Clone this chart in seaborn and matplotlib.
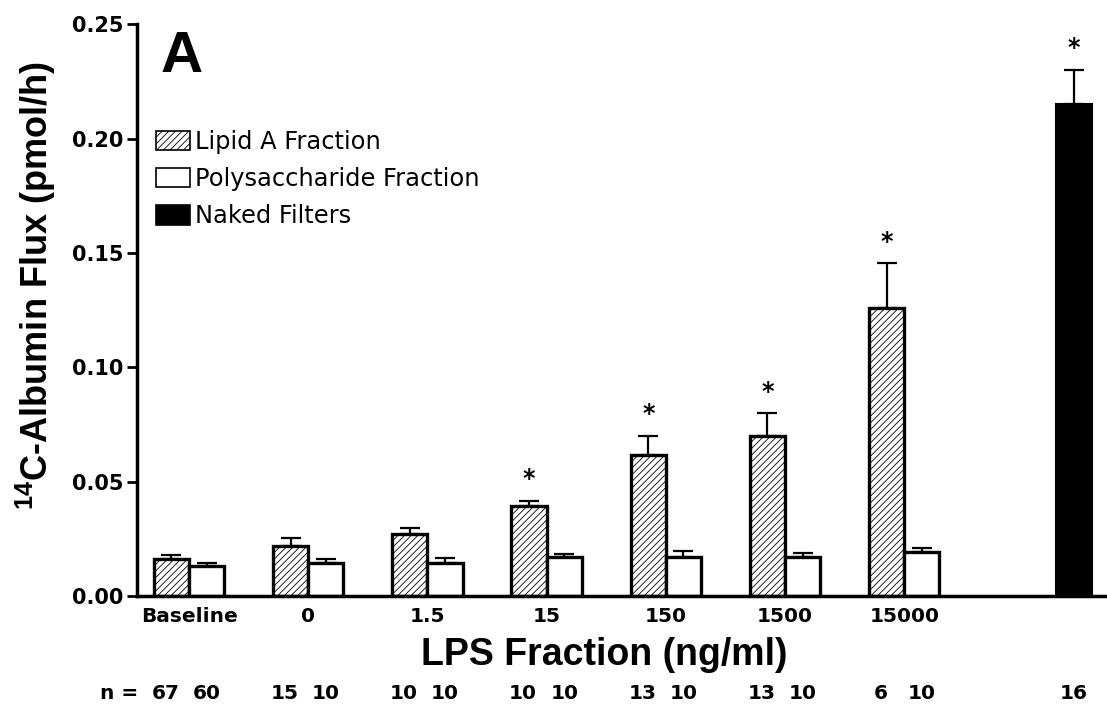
import numpy as np
import pandas as pd
import matplotlib
matplotlib.use("Agg")
import matplotlib.pyplot as plt
import seaborn as sns
from matplotlib.patches import Patch

# ---- data ----
groups = ["Baseline", "0", "1.5", "15", "150", "1500", "15000"]
lipid_mean = [0.0162, 0.0218, 0.0271, 0.0393, 0.0616, 0.0699, 0.1258]
lipid_sem = [0.0017, 0.0035, 0.0026, 0.0022, 0.0083, 0.0100, 0.0196]
poly_mean = [0.0131, 0.0144, 0.0144, 0.0170, 0.0170, 0.0170, 0.0192]
poly_sem = [0.0013, 0.0018, 0.0022, 0.0013, 0.0027, 0.0018, 0.0018]
naked_mean = [0.2153]
naked_sem = [0.0147]
lipid_n = [67, 15, 10, 10, 13, 13, 6]
poly_n = [60, 10, 10, 10, 10, 10, 10]
naked_n = [16]
lipid_sig = [False, False, False, True, True, True, True]
naked_sig = [True]

sns.set_theme(style="ticks")
plt.rcParams["font.family"] = ["DejaVu Sans"]
plt.rcParams["mathtext.fontset"] = "custom"
plt.rcParams["mathtext.rm"] = "Liberation Sans"
plt.rcParams["mathtext.bf"] = "Liberation Sans:bold"
plt.rcParams["hatch.linewidth"] = 0.6
plt.rcParams["hatch.color"] = "#666666"
for k in ["text.color", "axes.labelcolor", "xtick.color", "ytick.color",
          "axes.edgecolor"]:
    plt.rcParams[k] = "black"

fig = plt.figure(figsize=(11.07, 7.13), dpi=100)
ax = fig.add_axes([0.1238, 0.164, 0.874, 0.802])

bw = 0.295
gpos = np.arange(len(groups))
naked_pos = 7.425
lp = gpos - bw / 2
pp = gpos + bw / 2

df_l = pd.DataFrame({"x": lp, "y": lipid_mean})
df_p = pd.DataFrame({"x": pp, "y": poly_mean})
df_n = pd.DataFrame({"x": [naked_pos], "y": naked_mean})

n0 = len(ax.patches)
sns.barplot(data=df_l, x="x", y="y", native_scale=True, width=bw, color="white",
            edgecolor="black", linewidth=2.4, errorbar=None, ax=ax, saturation=1)
for p in ax.patches[n0:]:
    p.set_hatch("/////")
    p.set_facecolor("white")
sns.barplot(data=df_p, x="x", y="y", native_scale=True, width=bw, color="white",
            edgecolor="black", linewidth=2.4, errorbar=None, ax=ax, saturation=1)
sns.barplot(data=df_n, x="x", y="y", native_scale=True, width=0.3, color="black",
            edgecolor="black", linewidth=1.5, errorbar=None, ax=ax, saturation=1)

# upper-only error bars
for xs, ms, es in [(lp, lipid_mean, lipid_sem), (pp, poly_mean, poly_sem),
                   ([naked_pos], naked_mean, naked_sem)]:
    ax.errorbar(xs, ms, yerr=[np.zeros(len(es)), es], fmt="none", ecolor="black",
                elinewidth=1.6, capsize=7, capthick=1.6, zorder=1)

# significance stars
for xs, ms, es, ss in [(lp, lipid_mean, lipid_sem, lipid_sig),
                       ([naked_pos], naked_mean, naked_sem, naked_sig)]:
    for x, m, e, s in zip(xs, ms, es, ss):
        if s:
            ax.annotate("*", (x, m + e), xytext=(0, 7), textcoords="offset points",
                        ha="center", va="bottom", fontsize=17, fontweight="bold")

ax.set_xlim(-0.436, 7.68)
ax.set_ylim(0, 0.25)
ax.set_yticks([0, 0.05, 0.10, 0.15, 0.20, 0.25])
ax.set_yticklabels(["0.00", "0.05", "0.10", "0.15", "0.20", "0.25"],
                   fontsize=15, fontweight="bold")
ax.set_xticks(gpos)
ax.set_xticklabels(groups, fontsize=14.5, fontweight="bold")
ax.tick_params(axis="x", length=0, pad=8)
ax.tick_params(axis="y", length=7, width=2, pad=3, direction="out")
for sp in ["top", "right"]:
    ax.spines[sp].set_visible(False)
for sp in ["left", "bottom"]:
    ax.spines[sp].set_linewidth(2.5)

ax.set_xlabel("LPS Fraction (ng/ml)", fontsize=27, fontweight="bold",
              family="Liberation Sans")
ax.xaxis.set_label_coords(0.483, -0.072)
ax.set_ylabel(r"$\mathbf{^{14}}$C-Albumin Flux (pmol/h)", fontsize=26,
              fontweight="bold", family="Liberation Sans")
ax.yaxis.set_label_coords(-0.082, 0.544)

# n row
ntrans = ax.get_xaxis_transform()
ny = -0.17
ax.text(-0.746, ny, "n =", transform=ntrans, fontsize=14.5, fontweight="bold",
        ha="left", va="center")
for xs, ns in [(lp - 0.05, lipid_n), (pp, poly_n), ([naked_pos], naked_n)]:
    for x, n in zip(xs, ns):
        ax.text(x, ny, str(n), transform=ntrans, ha="center", va="center",
                fontsize=14.5, fontweight="bold")

# panel letter
ax.text(0.024, 0.99, "A", transform=ax.transAxes, fontsize=42,
        fontweight="bold", ha="left", va="top", family="Liberation Sans")

# legend
handles = [Patch(facecolor="white", edgecolor="black", hatch="/////", linewidth=1.2),
           Patch(facecolor="white", edgecolor="black", linewidth=1.2),
           Patch(facecolor="black", edgecolor="black", linewidth=1.2)]
labels = ["Lipid A Fraction", "Polysaccharide Fraction", "Naked Filters"]
ax.legend(handles, labels, loc="upper left", bbox_to_anchor=(0.0095, 0.832),
          frameon=False, fontsize=17.4, handlelength=1.4, handleheight=0.87,
          handletextpad=0.22, labelspacing=0.54, borderaxespad=0)

fig.savefig("out.png", dpi=100)
